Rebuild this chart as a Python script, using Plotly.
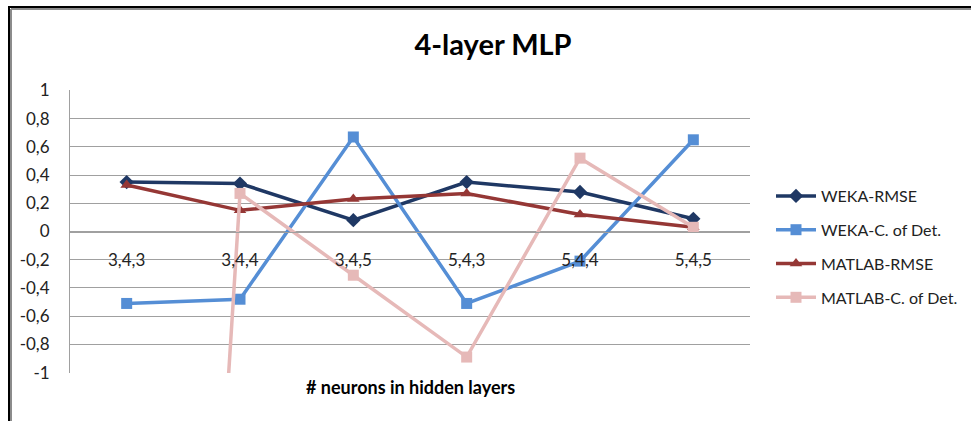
import plotly.graph_objects as go

# Hidden-layer configurations (neurons per layer)
categories = ["3,4,3", "3,4,4", "3,4,5", "5,4,3", "5,4,4", "5,4,5"]

weka_rmse = [0.35, 0.34, 0.08, 0.35, 0.28, 0.09]
weka_cdet = [-0.51, -0.48, 0.67, -0.51, -0.21, 0.65]
matlab_rmse = [0.33, 0.15, 0.23, 0.27, 0.12, 0.03]
matlab_cdet = [-12.5, 0.27, -0.31, -0.89, 0.52, 0.03]

y_tickvals = [1, 0.8, 0.6, 0.4, 0.2, 0, -0.2, -0.4, -0.6, -0.8, -1]
y_ticktext = ["1", "0,8", "0,6", "0,4", "0,2", "0", "-0,2", "-0,4", "-0,6", "-0,8", "-1"]

series = [
    ("WEKA-RMSE", weka_rmse, "#1F3864", "diamond", 11),
    ("WEKA-C. of Det.", weka_cdet, "#558ED5", "square", 11),
    ("MATLAB-RMSE", matlab_rmse, "#953735", "triangle-up", 11),
    ("MATLAB-C. of Det.", matlab_cdet, "#E6B9B8", "square", 11),
]

W, H = 971, 421
ML, MR, MT, MB = 70, 221, 90, 48
PW, PH = W - ML - MR, H - MT - MB

fig = go.Figure()
for i, (name, vals, color, symbol, size) in enumerate(series):
    fig.add_trace(go.Scatter(
        x=categories, y=vals, name=name, mode="lines+markers",
        line=dict(color=color, width=3.5),
        marker=dict(symbol=symbol, size=size, color=color),
        legendgroup=f"g{i}",
        cliponaxis=True,
    ))


def px(x):
    return (x - ML) / PW


def py(y):
    return (H - MB - y) / PH


# Outer chart frame: dark outer stroke with a grey inner stroke
shapes = [
    dict(type="line", xref="paper", yref="paper", x0=px(9), x1=px(971), y0=py(7), y1=py(7),
         line=dict(color="#000000", width=2)),
    dict(type="line", xref="paper", yref="paper", x0=px(9), x1=px(9), y0=py(6), y1=py(421),
         line=dict(color="#000000", width=2)),
    dict(type="line", xref="paper", yref="paper", x0=px(11), x1=px(971), y0=py(9), y1=py(9),
         line=dict(color="#8C8C8C", width=2)),
    dict(type="line", xref="paper", yref="paper", x0=px(11), x1=px(11), y0=py(9), y1=py(421),
         line=dict(color="#8C8C8C", width=2)),
]

fig.update_layout(
    width=W, height=H,
    margin=dict(l=ML, r=MR, t=MT, b=MB, autoexpand=False),
    paper_bgcolor="white", plot_bgcolor="white",
    font=dict(family="Lato", size=16, color="#222222"),
    title=dict(text="<b>4-layer MLP</b>", x=(493 / W), xanchor="center", xref="container",
               y=1 - 45 / H, yanchor="middle", yref="container",
               font=dict(family="Lato", size=29, color="#000000")),
    showlegend=True,
    legend=dict(x=px(771), xanchor="left", y=py(179), yanchor="top",
                traceorder="grouped", tracegroupgap=10,
                font=dict(family="Lato", size=16, color="#222222"),
                itemwidth=40, bgcolor="rgba(0,0,0,0)"),
    shapes=shapes,
    annotations=[dict(text="<b># neurons in hidden layers</b>", xref="paper", yref="paper",
                      x=0.5, y=py(387), xanchor="center", yanchor="middle", showarrow=False,
                      font=dict(family="Lato", size=18, color="#000000"))],
)

fig.update_xaxes(
    type="category", range=[-0.5, 5.5],
    anchor="free", position=0.5,
    showline=True, linecolor="#A0A0A0", linewidth=1,
    showgrid=False, zeroline=False, ticks="",
    ticklabelstandoff=13,
    tickfont=dict(family="Lato", size=17, color="#222222"),
)
fig.update_yaxes(
    range=[-1.003, 1.003],
    tickvals=y_tickvals, ticktext=y_ticktext,
    showgrid=True, gridcolor="#A0A0A0", gridwidth=1,
    zeroline=False, showline=True, linecolor="#A0A0A0", linewidth=1,
    ticks="", ticklabelstandoff=16,
    tickfont=dict(family="Lato", size=17, color="#222222"),
)

fig.write_html("out.html")
